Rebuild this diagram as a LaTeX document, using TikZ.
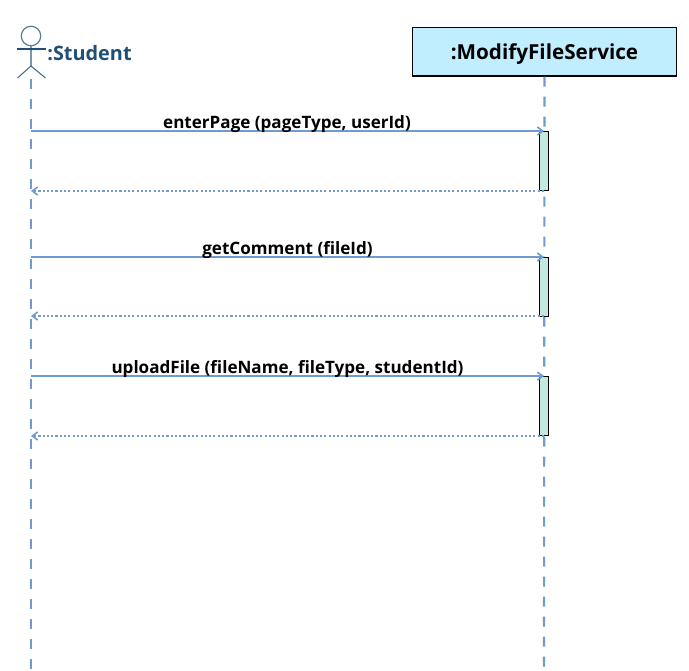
\documentclass[tikz,border=0pt]{standalone}
\usepackage{fontspec}
\setmainfont{Open Sans}
\usetikzlibrary{arrows.meta}
\definecolor{linecol}{HTML}{6F9BD0}
\definecolor{namecol}{HTML}{1F4E79}
\definecolor{boxcol}{HTML}{C1EEFF}
\definecolor{barcol}{HTML}{C3E8E0}
\tikzset{
lifeline/.style={draw=linecol, line width=1.6pt, dash pattern=on 7.5pt off 7.5pt},
callmsg/.style={draw=linecol, line width=1.6pt, -{Straight Barb[length=4pt,width=6pt,line width=1.2pt]}},
backmsg/.style={draw=linecol, line width=1.4pt, dash pattern=on 1.6pt off 1.6pt, -{Straight Barb[length=4pt,width=6pt,line width=1.2pt]}},
msglabel/.style={font=\fontsize{12.8}{14}\selectfont\bfseries, inner sep=0pt},
bar/.style={draw=black, fill=barcol, line width=0.8pt, minimum width=6.75pt, inner sep=0pt, outer sep=0pt}
}
\begin{document}
\begin{tikzpicture}[x=0.75pt,y=-0.75pt]
\useasboundingbox (0,0) rectangle (689,671);
% lifelines
\node[draw=black, fill=boxcol, line width=0.9pt, minimum width=198pt, minimum height=36.4pt, inner sep=0pt, text height=14pt, text depth=3pt, font=\fontsize{15.5}{18}\selectfont\bfseries] (service) at (544.5,51.7) {:ModifyFileService};
\coordinate (studentTop) at (31,79);
\coordinate (studentEnd) at (31,671);
\coordinate (serviceEnd) at (544,671);
\draw[lifeline] (studentTop) -- (studentEnd);
\draw[lifeline] (service.south) -- (serviceEnd);
% actor
\node[circle, draw=namecol!75!white, line width=0.9pt, minimum size=14.6pt, inner sep=0pt] (head) at (31,36) {};
\coordinate (neck) at (31,66);
\coordinate (armL) at (17,49);
\coordinate (armR) at (46,49);
\coordinate (legL) at (17.5,78);
\coordinate (legR) at (45.5,78);
\draw[namecol!60!white, line width=1pt] (head.south) -- (neck);
\draw[namecol, line width=0.8pt] (armL) -- (armR);
\draw[namecol!85!white, line width=0.8pt] (legL) -- (neck) -- (legR);
\node[font=\fontsize{14.9}{18}\selectfont\bfseries, text=namecol, inner sep=0pt] (student) at (89.5,53.5) {:Student};
% first call
\node[bar, minimum height=44.5pt] (barA) at (544,160.7) {};
\coordinate (fromA) at (31,131);
\coordinate (toA) at (31,191);
\draw[callmsg] (fromA) -- (fromA -| barA);
\draw[backmsg] (toA -| barA) -- (toA);
\node[msglabel] (labelA) at (287,124) {enterPage (pageType, userId)};
% second call
\node[bar, minimum height=44.5pt] (barB) at (544,286.7) {};
\coordinate (fromB) at (31,257);
\coordinate (toB) at (31,316);
\draw[callmsg] (fromB) -- (fromB -| barB);
\draw[backmsg] (toB -| barB) -- (toB);
\node[msglabel] (labelB) at (287.5,250) {getComment (fileId)};
% third call
\node[bar, minimum height=44.5pt] (barC) at (544,405.7) {};
\coordinate (fromC) at (31,376);
\coordinate (toC) at (31,436);
\draw[callmsg] (fromC) -- (fromC -| barC);
\draw[backmsg] (toC -| barC) -- (toC);
\node[msglabel] (labelC) at (287.5,369) {uploadFile (fileName, fileType, studentId)};
\end{tikzpicture}
\end{document}
